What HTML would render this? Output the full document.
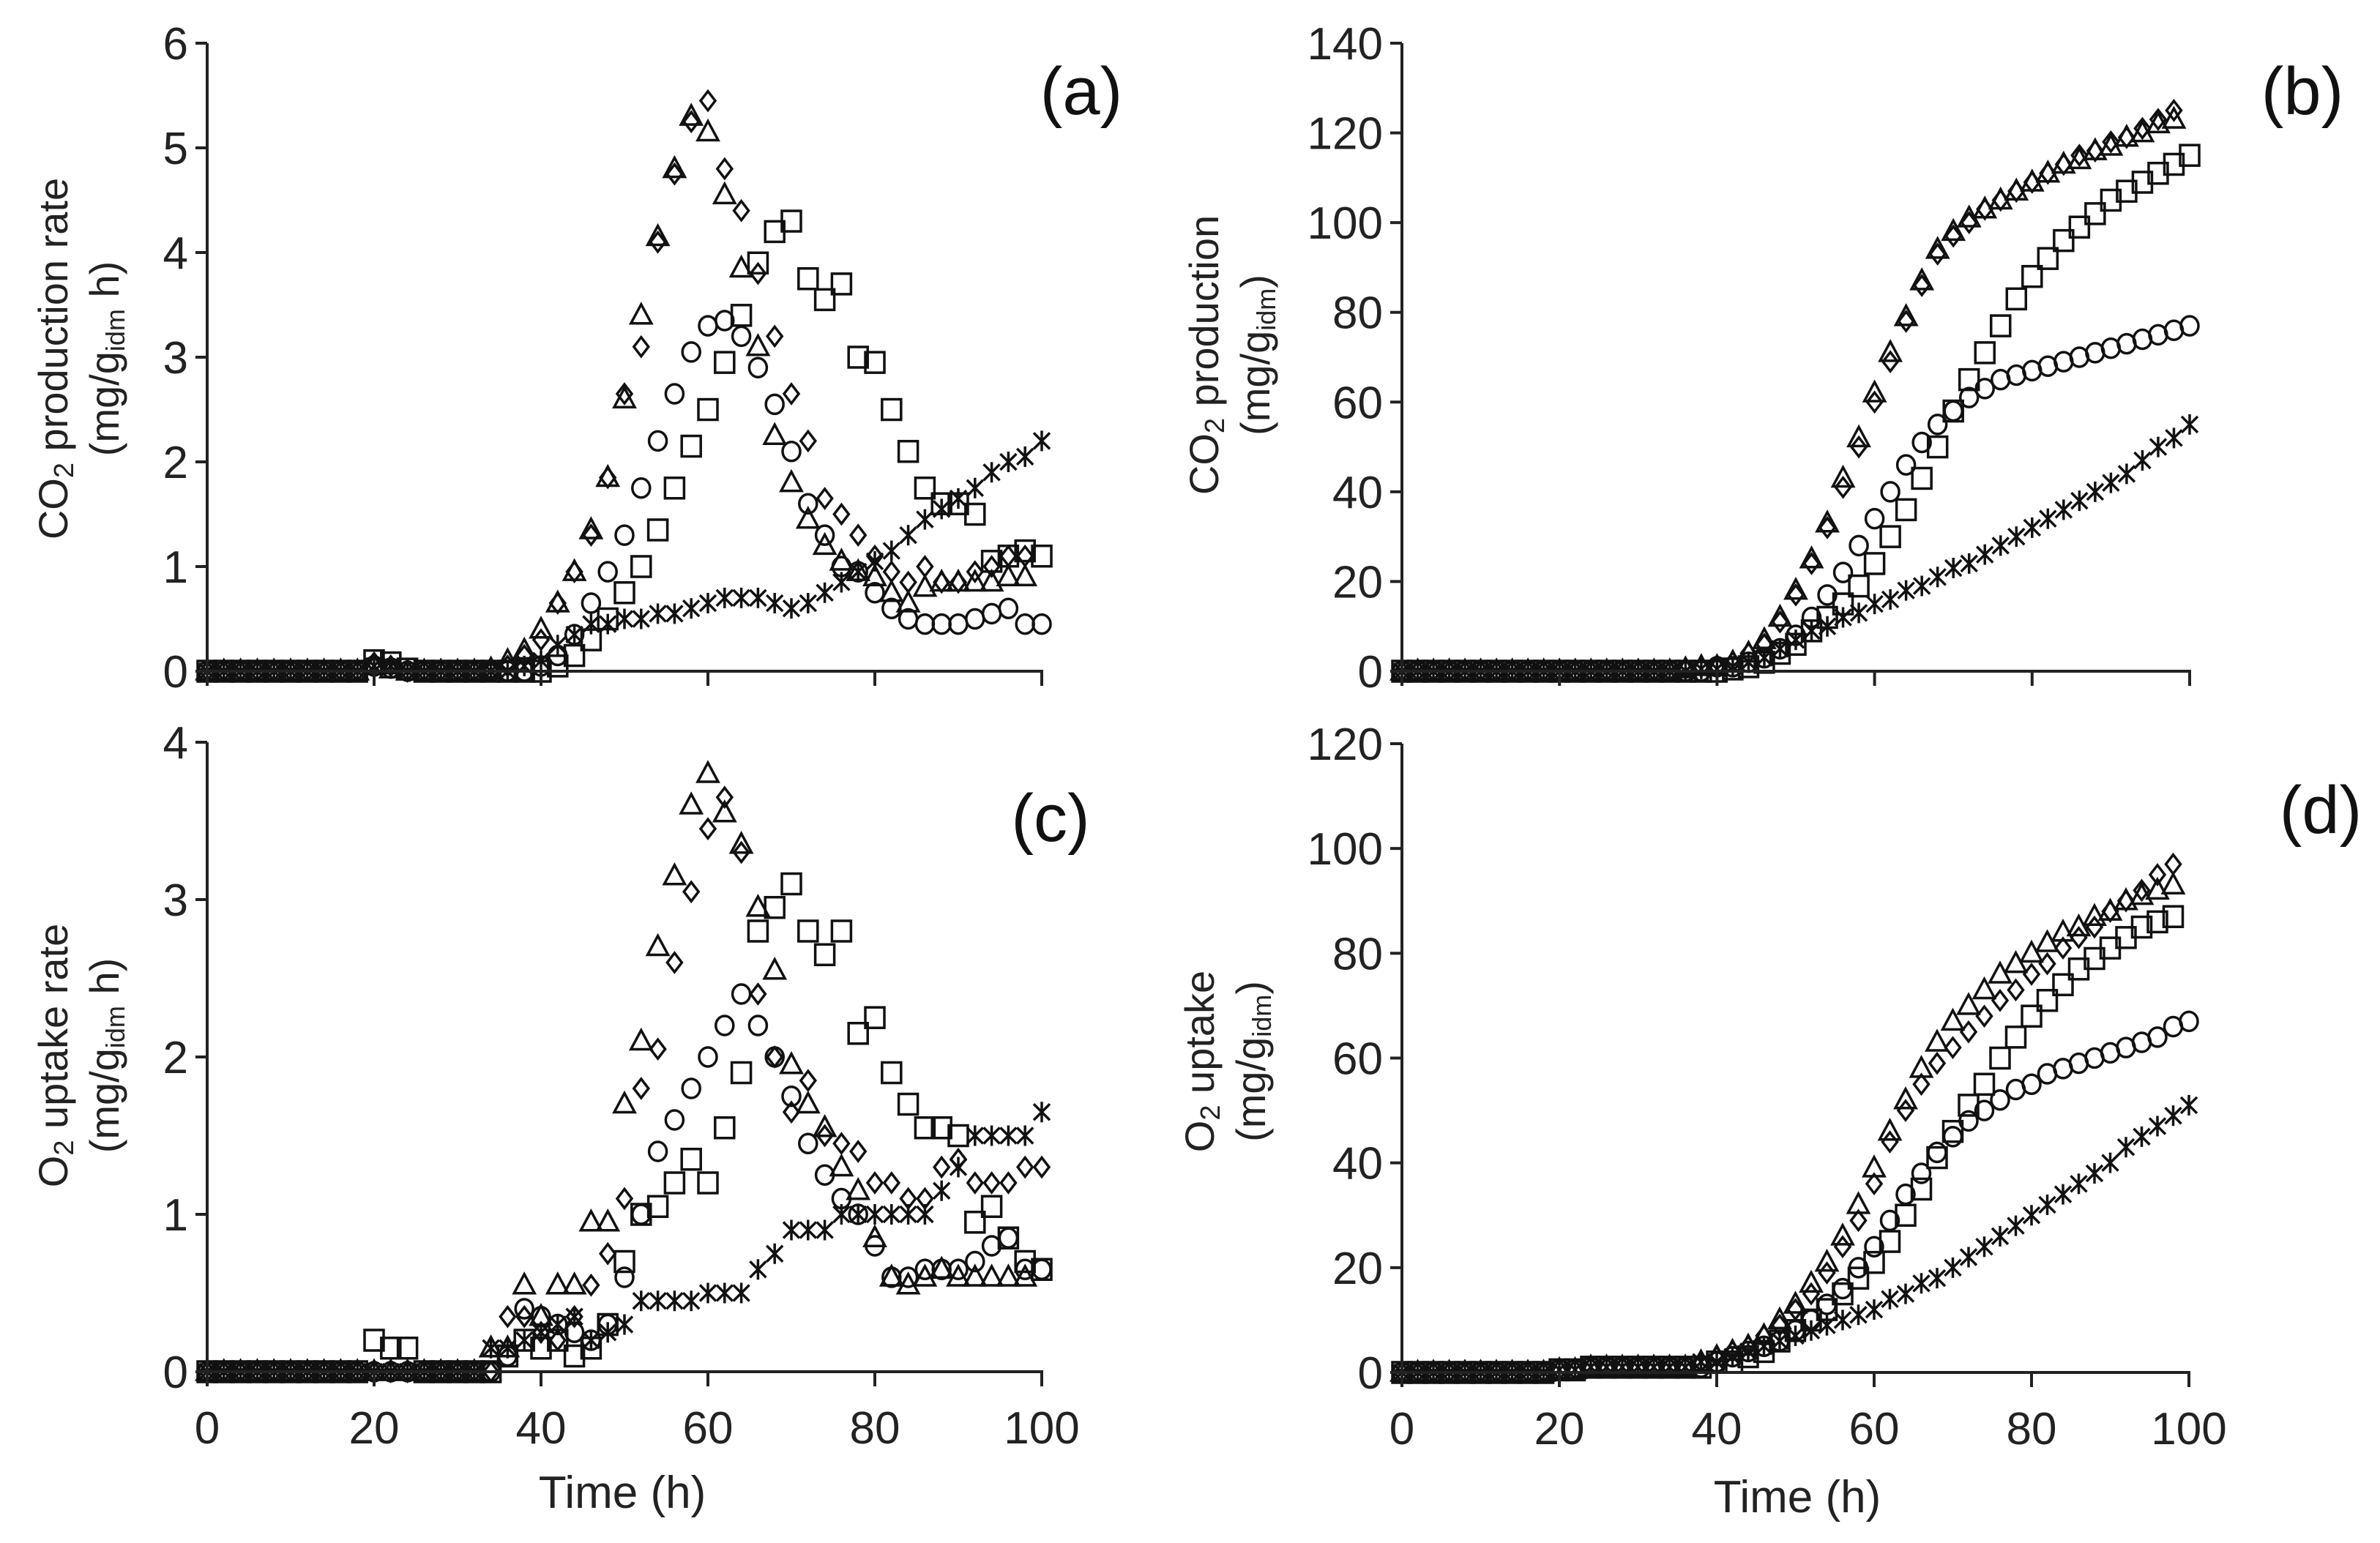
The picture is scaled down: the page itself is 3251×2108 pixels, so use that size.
<!DOCTYPE html>
<html><head><meta charset="utf-8"><title>CO2 production and O2 uptake</title>
<style>
html,body{margin:0;padding:0;background:#fff;}
svg{display:block;}
.tick{font-family:"Liberation Sans Narrow","Liberation Sans",sans-serif;font-size:62px;fill:#222;}
.ttl{font-family:"Liberation Sans",sans-serif;font-size:56px;fill:#222;}
.pl{font-family:"Liberation Sans Narrow","Liberation Sans",sans-serif;font-size:92px;fill:#111;}
</style></head>
<body>
<svg id="fig" width="3251" height="2108" viewBox="0 0 3251 2108" xmlns="http://www.w3.org/2000/svg">
<rect width="3251" height="2108" fill="#fff"/>
<g>
<text class="ttl" transform="translate(92,490) rotate(-90)" text-anchor="middle">CO<tspan font-size="38" dy="8">2</tspan><tspan dy="-8"> production rate</tspan></text>
<text class="ttl" transform="translate(162,490) rotate(-90)" text-anchor="middle">(mg/g<tspan font-size="36" dy="8">idm</tspan><tspan dy="-8"> h)</tspan></text>
</g>
<g>
<text class="ttl" transform="translate(1664,485) rotate(-90)" text-anchor="middle">CO<tspan font-size="38" dy="8">2</tspan><tspan dy="-8"> production</tspan></text>
<text class="ttl" transform="translate(1734,485) rotate(-90)" text-anchor="middle">(mg/g<tspan font-size="36" dy="8">idm</tspan><tspan dy="-8">)</tspan></text>
</g>
<g>
<text class="ttl" transform="translate(92,1442) rotate(-90)" text-anchor="middle">O<tspan font-size="38" dy="8">2</tspan><tspan dy="-8"> uptake rate</tspan></text>
<text class="ttl" transform="translate(162,1442) rotate(-90)" text-anchor="middle">(mg/g<tspan font-size="36" dy="8">idm</tspan><tspan dy="-8"> h)</tspan></text>
</g>
<g>
<text class="ttl" transform="translate(1658,1450) rotate(-90)" text-anchor="middle">O<tspan font-size="38" dy="8">2</tspan><tspan dy="-8"> uptake</tspan></text>
<text class="ttl" transform="translate(1728,1450) rotate(-90)" text-anchor="middle">(mg/g<tspan font-size="36" dy="8">idm</tspan><tspan dy="-8">)</tspan></text>
</g>
<text class="pl" x="1477" y="156" text-anchor="middle">(a)</text>
<text class="pl" x="3145" y="156" text-anchor="middle">(b)</text>
<text class="pl" x="1435" y="1149" text-anchor="middle">(c)</text>
<text class="pl" x="3170" y="1138" text-anchor="middle">(d)</text>
<text class="tick" x="850" y="2060" text-anchor="middle">Time (h)</text>
<text class="tick" x="2455" y="2066" text-anchor="middle">Time (h)</text>
</svg>
<script>
const times = [0,2,4,6,8,10,12,14,16,18,20,22,24,26,28,30,32,34,36,38,40,42,44,46,48,50,52,54,56,58,60,62,64,66,68,70,72,74,76,78,80,82,84,86,88,90,92,94,96,98,100];
const xTicks = [0,20,40,60,80,100];
const yTicksA = [0,1,2,3,4,5,6];
const yTicksB = [0,20,40,60,80,100,120,140];
const yTicksC = [0,1,2,3,4];
const yTicksD = [0,20,40,60,80,100,120];

const aTri  = [0,0,0,0,0,0,0,0,0,0,0.05,0.02,0,0,0,0,0,0.02,0.1,0.2,0.4,0.65,0.95,1.35,1.85,2.6,3.4,4.15,4.8,5.3,5.15,4.55,3.85,3.1,2.25,1.8,1.45,1.2,1.05,0.95,0.9,0.75,0.65,0.8,0.85,0.85,0.85,0.85,0.9,0.9,null];
const aDia  = [0,0,0,0,0,0,0,0,0,0,0.08,0.05,0,0,0,0,0,0,0.05,0.15,0.3,0.65,0.95,1.3,1.85,2.65,3.1,4.1,4.75,5.25,5.45,4.8,4.4,3.8,3.2,2.65,2.2,1.65,1.5,1.3,1.1,0.95,0.85,1.0,0.85,0.85,0.95,1.0,1.1,1.1,null];
const aCir  = [0,0,0,0,0,0,0,0,0,0,0.05,0.03,0,0,0,0,0,0,0,0,0.05,0.15,0.35,0.65,0.95,1.3,1.75,2.2,2.65,3.05,3.3,3.35,3.2,2.9,2.55,2.1,1.6,1.3,1.0,0.95,0.75,0.6,0.5,0.45,0.45,0.45,0.5,0.55,0.6,0.45,0.45];
const aSqr  = [0,0,0,0,0,0,0,0,0,0,0.1,0.08,0.02,0,0,0,0,0,0,0,0,0.05,0.15,0.3,0.5,0.75,1.0,1.35,1.75,2.15,2.5,2.95,3.4,3.9,4.2,4.3,3.75,3.55,3.7,3.0,2.95,2.5,2.1,1.75,1.6,1.6,1.5,1.05,1.1,1.15,1.1];
const aStar = [0,0,0,0,0,0,0,0,0,0,0.05,0.05,0,0,0,0,0,0,0,0.05,0.1,0.25,0.35,0.45,0.45,0.5,0.5,0.55,0.55,0.6,0.65,0.7,0.7,0.7,0.65,0.6,0.65,0.75,0.85,0.95,1.05,1.15,1.3,1.45,1.55,1.65,1.75,1.9,2.0,2.05,2.2];

const bTri  = [0,0,0,0,0,0,0,0,0,0,0,0,0,0,0,0,0,0,0.5,1,1,2,4,7,12,18,25,33,43,52,62,71,79,87,94,98,101,103,105,107,109,111,113,114,116,117,119,120,122,123,null];
const bDia  = [0,0,0,0,0,0,0,0,0,0,0,0,0,0,0,0,0,0,0.5,1,1,2,4,6,11,17,24,32,41,50,60,69,78,86,93,97,100,103,105,107,109,111,113,115,116,118,119,121,123,125,null];
const bCir  = [0,0,0,0,0,0,0,0,0,0,0,0,0,0,0,0,0,0,0,0,1,1,2,3,5,8,12,17,22,28,34,40,46,51,55,58,61,63,65,66,67,68,69,70,71,72,73,74,75,76,77];
const bSqr  = [0,0,0,0,0,0,0,0,0,0,0,0,0,0,0,0,0,0,0,0,0,0.5,1,2,4,6,9,12,15,19,24,30,36,43,50,58,65,71,77,83,88,92,96,99,102,105,107,109,111,113,115];
const bStar = [0,0,0,0,0,0,0,0,0,0,0,0,0,0,0,0,0,0,0,0.5,0.5,1,2,3,5,7,9,10,12,13,15,16,18,19,21,23,24,26,28,30,32,34,36,38,40,42,44,47,50,52,55];

const cTri  = [0,0,0,0,0,0,0,0,0,0,0,0,0,0,0,0,0,0.15,0.15,0.55,0.35,0.55,0.55,0.95,0.95,1.7,2.1,2.7,3.15,3.6,3.8,3.55,3.35,2.95,2.55,1.95,1.7,1.55,1.3,1.15,0.85,0.6,0.55,0.6,0.65,0.6,0.6,0.6,0.6,0.6,null];
const cDia  = [0,0,0,0,0,0,0,0,0,0,0,0,0,0,0,0,0,0,0.35,0.35,0.25,0.2,0.35,0.55,0.75,1.1,1.8,2.05,2.6,3.05,3.45,3.65,3.3,2.4,2.0,1.65,1.85,1.5,1.45,1.4,1.2,1.2,1.1,1.1,1.3,1.35,1.2,1.2,1.2,1.3,1.3];
const cCir  = [0,0,0,0,0,0,0,0,0,0,0,0,0,0,0,0,0,0,0.1,0.4,0.35,0.3,0.25,0.2,0.3,0.6,1.0,1.4,1.6,1.8,2.0,2.2,2.4,2.2,2.0,1.75,1.45,1.25,1.1,1.0,0.8,0.6,0.6,0.65,0.65,0.65,0.7,0.8,0.85,0.65,0.65];
const cSqr  = [0,0,0,0,0,0,0,0,0,0,0.2,0.15,0.15,0,0,0,0,0,0.1,0.2,0.15,0.2,0.1,0.15,0.3,0.7,1.0,1.05,1.2,1.35,1.2,1.55,1.9,2.8,2.95,3.1,2.8,2.65,2.8,2.15,2.25,1.9,1.7,1.55,1.55,1.5,0.95,1.05,0.85,0.7,0.65];
const cStar = [0,0,0,0,0,0,0,0,0,0,0,0,0,0,0,0,0,0.15,0.15,0.2,0.25,0.3,0.35,0.2,0.25,0.3,0.45,0.45,0.45,0.45,0.5,0.5,0.5,0.65,0.75,0.9,0.9,0.9,1.0,1.0,1.0,1.0,1.0,1.0,1.15,1.3,1.5,1.5,1.5,1.5,1.65];

const dTri  = [0,0,0,0,0,0,0,0,0,0,0.5,0.5,1,1,1,1,1,1,1,2,3,4,5,7,10,13,17,21,26,32,39,46,52,58,63,67,70,73,76,78,80,82,84,85,87,88,90,91,92,93,null];
const dDia  = [0,0,0,0,0,0,0,0,0,0,0.5,0.5,1,1,1,1,1,1,1,2,3,4,5,7,9,12,15,19,24,29,36,44,50,55,59,62,65,68,71,73,76,78,81,83,85,88,90,92,95,97,null];
const dCir  = [0,0,0,0,0,0,0,0,0,0,0.5,0.5,1,1,1,1,1,1,1,1,2,3,4,5,6,8,10,13,16,20,24,29,34,38,42,45,48,50,52,54,55,57,58,59,60,61,62,63,64,66,67];
const dSqr  = [0,0,0,0,0,0,0,0,0,0,0.5,0.5,1,1,1,1,1,1,1,1,2,2,3,4,6,8,10,12,15,18,21,25,30,35,41,46,51,55,60,64,68,71,74,77,79,81,83,85,86,87,null];
const dStar = [0,0,0,0,0,0,0,0,0,0,0.5,0.5,1,1,1,1,1,1,1,2,2,3,4,5,6,7,8,9,10,11,12,14,15,17,18,20,22,24,26,28,30,32,34,36,38,40,43,45,47,49,51];

const NS = "http://www.w3.org/2000/svg";
const fig = document.getElementById('fig');
function mk(tag, attrs, parent){ const e=document.createElementNS(NS,tag); for(const k in attrs) e.setAttribute(k,attrs[k]); (parent||fig).appendChild(e); return e; }

const panels = [
 {id:'a', x0:283, x1:1423, yb:917, yt:59, ymax:6, ticks:yTicksA, labels:false, series:{tri:aTri,dia:aDia,cir:aCir,sqr:aSqr,star:aStar}},
 {id:'b', x0:1915, x1:2991, yb:917, yt:59, ymax:140, ticks:yTicksB, labels:false, series:{tri:bTri,dia:bDia,cir:bCir,sqr:bSqr,star:bStar}},
 {id:'c', x0:283, x1:1423, yb:1874, yt:1014, ymax:4, ticks:yTicksC, labels:true, series:{tri:cTri,dia:cDia,cir:cCir,sqr:cSqr,star:cStar}},
 {id:'d', x0:1915, x1:2990, yb:1875, yt:1016, ymax:120, ticks:yTicksD, labels:true, series:{tri:dTri,dia:dDia,cir:dCir,sqr:dSqr,star:dStar}}
];

function marker(g, type, x, y){
  const st={fill:'none',stroke:'#111','stroke-width':3.5};
  let e;
  if(type==='tri'){ e=mk('polygon',Object.assign({points:`${x},${y-15} ${x-14},${y+11} ${x+14},${y+11}`},st),g); }
  else if(type==='dia'){ e=mk('polygon',Object.assign({points:`${x},${y-13} ${x+10},${y} ${x},${y+13} ${x-10},${y}`},st),g); }
  else if(type==='cir'){ e=mk('ellipse',Object.assign({cx:x,cy:y,rx:12,ry:13},st),g); }
  else if(type==='sqr'){ e=mk('rect',Object.assign({x:x-13,y:y-14,width:26,height:28},st),g); }
  else { e=mk('path',Object.assign({d:`M${x-11},${y-11}L${x+11},${y+11}M${x+11},${y-11}L${x-11},${y+11}M${x},${y-14}L${x},${y+14}`},st),g); }
  return e;
}

panels.forEach(p=>{
  const g = mk('g',{});
  
  
  const sx = v => p.x0 + (v/100)*(p.x1-p.x0);
  const sy = v => p.yb - (v/p.ymax)*(p.yb-p.yt);
  Object.keys(p.series).forEach(k=>{
    const sg = mk('g',{},g);
    
    
    p.series[k].forEach((v,i)=>{
      if(v===null) return;
      const m = marker(sg,k,sx(times[i]),sy(v));
      
      
    });
  });
  const ya = mk('line',{x1:p.x0,y1:p.yt,x2:p.x0,y2:p.yb+2,stroke:'#222','stroke-width':4},g);
  
  
  const xa = mk('line',{x1:p.x0-2,y1:p.yb,x2:p.x1+2,y2:p.yb,stroke:'#222','stroke-width':4},g);
  
  
  p.ticks.forEach(t=>{
    const y=sy(t);
    mk('line',{x1:p.x0-16,y1:y,x2:p.x0,y2:y,stroke:'#222','stroke-width':4},g);
    const tl = mk('text',{x:p.x0-26,y:y+22,'text-anchor':'end',class:'tick'},g);
    tl.textContent = t;
    
    
  });
  xTicks.forEach(t=>{
    const x=sx(t);
    mk('line',{x1:x,y1:p.yb,x2:x,y2:p.yb+20,stroke:'#222','stroke-width':4},g);
    if(p.labels){
      const tl = mk('text',{x:x,y:p.yb+98,'text-anchor':'middle',class:'tick'},g);
      tl.textContent = t;
      
      
    }
  });
});
</script>
</body></html>
